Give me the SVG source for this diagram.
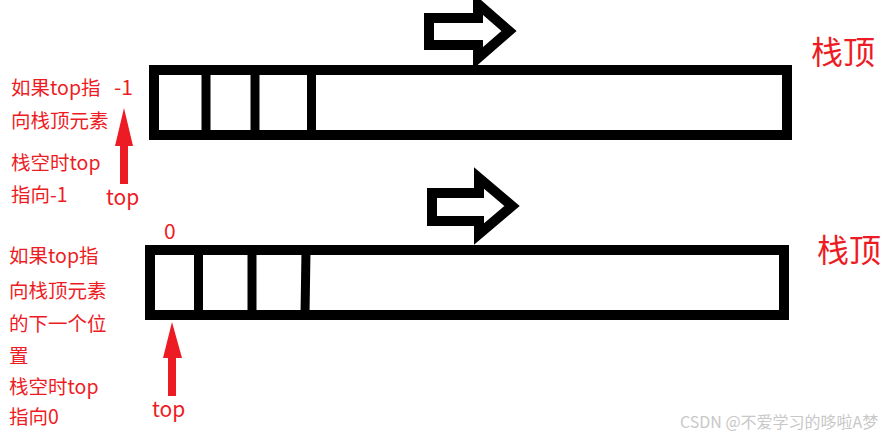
<svg xmlns="http://www.w3.org/2000/svg" width="891" height="436" viewBox="0 0 891 436">
<style>
.box{fill:none;stroke:#000;stroke-width:10}
.div{stroke:#000;stroke-width:9}
.hol{fill:none;stroke:#000;stroke-width:10;stroke-linejoin:miter}
.red{fill:#ed1c24}
.lbl{font-family:"Noto Sans CJK SC","Liberation Sans",sans-serif;font-size:19.5px;fill:#ed1c24}
.big{font-family:"Noto Sans CJK SC","Liberation Sans",sans-serif;font-size:32px;fill:#ed1c24}
.wm{font-family:"Noto Sans CJK SC","Liberation Sans",sans-serif;font-size:16px;fill:#c8c8c8}
</style>
<rect width="891" height="436" fill="#fff"/>
<g id="stack1">
<rect class="box" x="154" y="70" width="633" height="65"/>
<line class="div" x1="206" y1="70" x2="206" y2="135"/>
<line class="div" x1="255" y1="70" x2="255" y2="135"/>
<line class="div" x1="311.5" y1="70" x2="311.5" y2="135"/>
</g>
<g id="stack2">
<rect class="box" x="150" y="250" width="634" height="65"/>
<line class="div" x1="198.5" y1="250" x2="198.5" y2="315"/>
<line class="div" x1="252" y1="250" x2="252" y2="315"/>
<line class="div" x1="306" y1="250" x2="305" y2="315"/>
</g>
<g id="arrow1">
<polygon class="hol" points="429,18 478,18 478,4 509,31 478,58 478,45 429,45"/>
</g>
<g id="arrow2">
<polygon class="hol" points="432,193 479,193 479,178 512,206 479,234 479,221 432,221"/>
</g>
<g id="connectors">
<polygon class="red" points="124,108 133,146 128,146 128,184 120,184 120,146 115,146"/>
<polygon class="red" points="172,322 182,358 176,358 176,396 168,396 168,358 163,358"/>
</g>
<g id="labels1">
<text class="lbl" x="11" y="95">如果top指</text>
<text class="lbl" x="114" y="95" style="font-size:21px">-1</text>
<text class="lbl" x="11" y="128">向栈顶元素</text>
<text class="lbl" x="11" y="170">栈空时top</text>
<text class="lbl" x="11" y="202">指向-1</text>
<text class="lbl" x="106" y="205" style="font-size:21px">top</text>
<text class="big" x="811" y="64">栈顶</text>
</g>
<g id="labels2">
<text class="lbl" x="164" y="239" style="font-size:21px">0</text>
<text class="lbl" x="9" y="263">如果top指</text>
<text class="lbl" x="9" y="298">向栈顶元素</text>
<text class="lbl" x="9" y="331">的下一个位</text>
<text class="lbl" x="9" y="363">置</text>
<text class="lbl" x="9" y="394">栈空时top</text>
<text class="lbl" x="9" y="424">指向0</text>
<text class="lbl" x="152" y="417" style="font-size:21px">top</text>
<text class="big" x="817" y="262">栈顶</text>
</g>
<text class="wm" x="680" y="428">CSDN @不爱学习的哆啦A梦</text>
</svg>
